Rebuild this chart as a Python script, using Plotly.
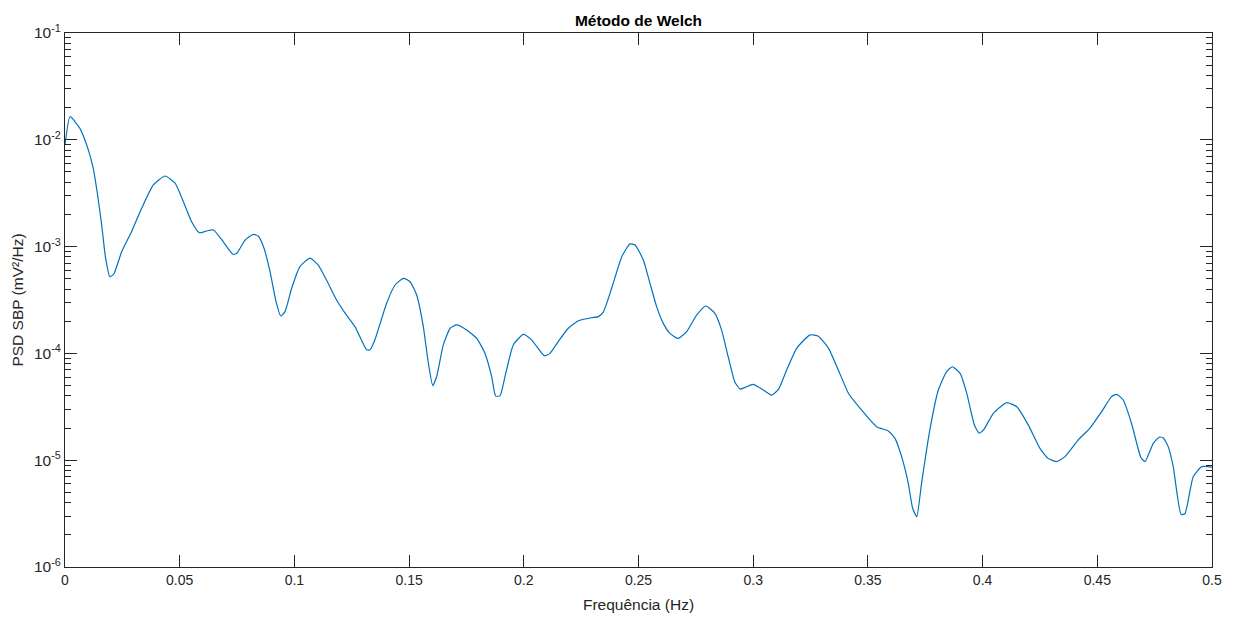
import plotly.graph_objects as go

freq = [0.0, 0.0022, 0.0065, 0.0102, 0.0123, 0.0141, 0.016, 0.0177, 0.0196, 0.0214,
        0.0247, 0.029, 0.0334, 0.0385, 0.0436, 0.048, 0.0516, 0.0552, 0.0585, 0.0617,
        0.0647, 0.069, 0.0731, 0.0748, 0.0785, 0.0821, 0.0843, 0.0868, 0.0894, 0.092,
        0.094, 0.0959, 0.0988, 0.1024, 0.1068, 0.1104, 0.114, 0.1184, 0.122, 0.1264,
        0.1315, 0.133, 0.1351, 0.1402, 0.1439, 0.1475, 0.1504, 0.1533, 0.1562, 0.1584,
        0.1603, 0.162, 0.1649, 0.1679, 0.1707, 0.1751, 0.1795, 0.1831, 0.186, 0.1877,
        0.1896, 0.1918, 0.1954, 0.1998, 0.2034, 0.209, 0.2114, 0.215, 0.2194, 0.2238,
        0.2296, 0.2325, 0.2347, 0.2383, 0.2427, 0.2463, 0.2485, 0.2521, 0.255, 0.2579,
        0.2608, 0.2637, 0.2673, 0.271, 0.2754, 0.2794, 0.2833, 0.2862, 0.2891, 0.292,
        0.2943, 0.2964, 0.30, 0.3044, 0.308, 0.311, 0.3146, 0.319, 0.3248, 0.3284,
        0.3328, 0.3371, 0.3415, 0.3466, 0.3538, 0.3589, 0.3618, 0.3647, 0.3676, 0.3695,
        0.3713, 0.3734, 0.377, 0.3807, 0.3843, 0.3868, 0.3902, 0.3931, 0.3964, 0.3985,
        0.4004, 0.4047, 0.4105, 0.4149, 0.4199, 0.425, 0.4286, 0.4323, 0.4359, 0.4417,
        0.4468, 0.4519, 0.4562, 0.4584, 0.4613, 0.4649, 0.469, 0.4708, 0.4744, 0.477,
        0.4787, 0.4809, 0.4831, 0.4865, 0.4882, 0.4918, 0.4955, 0.4984, 0.5]

psd = [8.9e-3, 1.645e-2, 1.28e-2, 8.0e-3, 5.4e-3, 3.16e-3, 1.59e-3, 7.8e-4, 5.2e-4, 5.6e-4,
       8.95e-4, 1.38e-3, 2.28e-3, 3.78e-3, 4.58e-3, 3.92e-3, 2.63e-3, 1.71e-3, 1.35e-3, 1.40e-3,
       1.43e-3, 1.11e-3, 8.5e-4, 8.6e-4, 1.15e-3, 1.30e-3, 1.25e-3, 9.6e-4, 5.8e-4, 3.05e-4,
       2.24e-4, 2.46e-4, 4.07e-4, 6.5e-4, 7.8e-4, 6.7e-4, 4.86e-4, 3.16e-4, 2.4e-4, 1.78e-4,
       1.08e-4, 1.08e-4, 1.34e-4, 2.95e-4, 4.37e-4, 5.05e-4, 4.69e-4, 3.52e-4, 1.78e-4, 8.1e-5,
       5.0e-5, 6.05e-5, 1.2e-4, 1.72e-4, 1.85e-4, 1.66e-4, 1.38e-4, 1.0e-4, 6.05e-5, 4.0e-5,
       4.0e-5, 6.05e-5, 1.2e-4, 1.51e-4, 1.34e-4, 9.5e-5, 1.0e-4, 1.29e-4, 1.72e-4, 2.02e-4,
       2.16e-4, 2.21e-4, 2.45e-4, 4.07e-4, 8.05e-4, 1.06e-3, 1.035e-3, 7.5e-4, 4.53e-4, 2.74e-4,
       1.91e-4, 1.54e-4, 1.38e-4, 1.6e-4, 2.29e-4, 2.78e-4, 2.37e-4, 1.66e-4, 9.3e-5, 5.4e-5,
       4.64e-5, 4.8e-5, 5.12e-5, 4.54e-5, 4.07e-5, 4.6e-5, 7.0e-5, 1.12e-4, 1.49e-4, 1.45e-4,
       1.12e-4, 7.0e-5, 4.23e-5, 3.06e-5, 2.06e-5, 1.88e-5, 1.6e-5, 1.08e-5, 6.08e-6, 3.55e-6,
       2.96e-6, 6.1e-6, 1.92e-5, 4.54e-5, 6.75e-5, 7.5e-5, 6.5e-5, 4.23e-5, 2.14e-5, 1.79e-5,
       1.92e-5, 2.75e-5, 3.46e-5, 3.17e-5, 2.14e-5, 1.29e-5, 1.04e-5, 9.7e-6, 1.08e-5, 1.55e-5,
       2.0e-5, 2.85e-5, 3.94e-5, 4.14e-5, 3.66e-5, 2.22e-5, 1.06e-5, 9.7e-6, 1.44e-5, 1.64e-5,
       1.62e-5, 1.34e-5, 8.7e-6, 3.11e-6, 3.15e-6, 7.0e-6, 8.7e-6, 8.7e-6, 8.6e-6]

x_ticks = [0, 0.05, 0.1, 0.15, 0.2, 0.25, 0.3, 0.35, 0.4, 0.45, 0.5]
x_ticklabels = ["0", "0.05", "0.1", "0.15", "0.2", "0.25", "0.3", "0.35", "0.4", "0.45", "0.5"]
y_ticks = [1e-6, 1e-5, 1e-4, 1e-3, 1e-2, 1e-1]
y_ticklabels = ["10<sup>-6</sup>", "10<sup>-5</sup>", "10<sup>-4</sup>",
                "10<sup>-3</sup>", "10<sup>-2</sup>", "10<sup>-1</sup>"]
y_minor_ticks = [m * d for d in y_ticks[:-1] for m in range(2, 10)]

axis_color = "#262626"
font_family = "Liberation Sans, Arial, Helvetica, sans-serif"

fig = go.Figure()
fig.add_trace(go.Scatter(x=freq, y=psd, mode="lines",
                         line=dict(color="#0072BD", width=1.2, shape="spline", smoothing=0.5),
                         showlegend=False, hoverinfo="x+y"))

fig.update_layout(
    width=1240, height=618,
    margin=dict(l=57, r=36, t=25, b=59),
    paper_bgcolor="white", plot_bgcolor="white",
    font=dict(family=font_family, size=14, color=axis_color),
    title=dict(text="<b>Método de Welch</b>", x=0.5, xanchor="center",
               xref="paper", y=1, yref="paper", yanchor="bottom", pad=dict(b=7),
               font=dict(size=15.5, color="black")),
    xaxis=dict(range=[0, 0.5], tickvals=x_ticks, ticktext=x_ticklabels,
               ticks="inside", ticklen=12, tickwidth=1, tickcolor=axis_color,
               showline=True, linecolor=axis_color, linewidth=1, mirror="ticks",
               showgrid=False, zeroline=False, automargin=False,
               title=dict(text="Frequência (Hz)", font=dict(size=15.5), standoff=12),
               tickfont=dict(size=14)),
    yaxis=dict(type="log", range=[-6, -1], tickvals=y_ticks, ticktext=y_ticklabels,
               ticks="inside", ticklen=12, tickwidth=1, tickcolor=axis_color,
               showline=True, linecolor=axis_color, linewidth=1, mirror="ticks",
               showgrid=False, zeroline=False, automargin=False,
               minor=dict(ticks="inside", ticklen=6, tickcolor=axis_color,
                          showgrid=False, tickvals=y_minor_ticks),
               title=dict(text="PSD SBP (mV²/Hz)", font=dict(size=15.5), standoff=6),
               tickfont=dict(size=15.5)),
)

fig.write_html("out.html")
